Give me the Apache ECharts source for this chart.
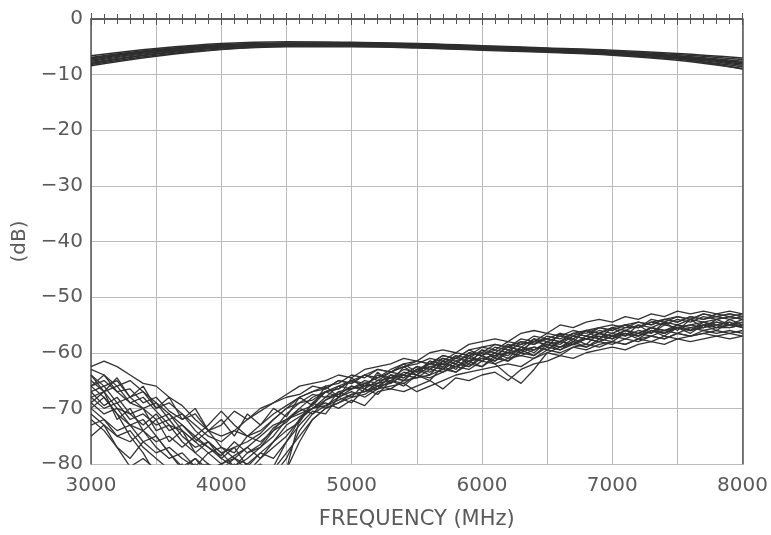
<!DOCTYPE html>
<html>
<head>
<meta charset="utf-8">
<script src="https://cdn.jsdelivr.net/npm/echarts@6/dist/echarts.min.js"></script>
<style>
html,body{margin:0;padding:0;background:#fff;}
#chart{width:771px;height:535px;}
</style>
</head>
<body>
<div id="chart"></div>
<script>
// Frequencies (MHz)
const freqUpper = [3000,3500,4000,4500,5000,5500,6000,6500,7000,7500,8000];
const freqLower = [3000,3100,3200,3300,3400,3500,3600,3700,3800,3900,
                   4000,4100,4200,4300,4400,4500,4600,4700,4800,4900,
                   5000,5100,5200,5300,5400,5500,5600,5700,5800,5900,
                   6000,6100,6200,6300,6400,6500,6600,6700,6800,6900,
                   7000,7100,7200,7300,7400,7500,7600,7700,7800,7900,8000];
const xTickLabels = ['3000','4000','5000','6000','7000','8000'];
const yTickLabels = ['0','−10','−20','−30','−40','−50','−60','−70','−80'];

// Upper band (dB)
const U1 = [-6.6,-5.3,-4.4,-4.1,-4.2,-4.4,-4.8,-5.2,-5.6,-6.2,-7.0];
const U2 = [-6.9,-5.5,-4.6,-4.3,-4.3,-4.5,-4.9,-5.3,-5.8,-6.4,-7.3];
const U3 = [-7.2,-5.7,-4.8,-4.4,-4.4,-4.6,-5.0,-5.4,-5.9,-6.6,-7.6];
const U4 = [-7.4,-5.9,-4.9,-4.5,-4.5,-4.7,-5.1,-5.5,-6.0,-6.7,-7.8];
const U5 = [-7.6,-6.0,-5.0,-4.6,-4.6,-4.8,-5.2,-5.6,-6.1,-6.8,-7.9];
const U6 = [-7.8,-6.2,-5.1,-4.7,-4.7,-4.9,-5.3,-5.7,-6.2,-6.9,-8.1];
const U7 = [-8.0,-6.3,-5.2,-4.8,-4.8,-5.0,-5.4,-5.8,-6.3,-7.0,-8.3];
const U8 = [-8.2,-6.5,-5.4,-4.9,-4.9,-5.1,-5.5,-5.9,-6.4,-7.2,-8.6];
const U9 = [-8.4,-6.7,-5.5,-5.0,-5.0,-5.2,-5.6,-6.0,-6.5,-7.4,-8.9];
const U10 = [-7.0,-5.6,-4.7,-4.4,-4.5,-4.7,-5.1,-5.6,-6.2,-7.1,-9.0];

// Lower band (dB)
const L1 = [-62.5,-61.5,-62.5,-64,-65.5,-66,-68,-69.5,-72,-74,
 -75,-74,-72,-70.5,-69,-67.5,-66,-65.5,-65,-64,
 -64.5,-63,-62.5,-62,-61,-61.5,-60,-59.5,-60,-58.5,
 -58,-57.5,-58,-56.5,-56,-56.5,-55,-55.5,-54.5,-54,
 -54.5,-53.5,-54,-53,-53.5,-52.5,-53,-52.5,-53,-52.5,-53];
const L2 = [-66,-65,-67,-66.5,-69,-68,-70.5,-72,-71,-74,
 -73,-70.5,-72,-70,-69,-68,-67.5,-66,-66.5,-65,
 -65.5,-64,-64.5,-63,-62,-63.5,-61.5,-62,-60.5,-61,
 -59.5,-60,-58.5,-59,-57.5,-58,-57,-57.5,-56,-56.5,
 -55.5,-56,-55,-55.5,-54.5,-55,-54,-54.5,-54,-53.5,-54];
const L3 = [-66,-68,-71,-75,-78,-82,-83,-81,-79,-82,
 -84,-83,-85,-82,-80.5,-76,-72,-70,-68,-67.5,
 -66,-66.5,-65,-64.5,-65,-63,-63.5,-62,-62.5,-61,
 -61.5,-60,-60.5,-59,-59.5,-58,-58.5,-57,-57.5,-56.5,
 -57,-56,-56.5,-55.5,-56,-55,-55.5,-55,-54.5,-55,-54.5];
const L4 = [-68,-70,-69,-72,-71,-73,-72,-75,-77,-76,
 -78,-80.5,-79,-77,-75,-72,-70.5,-69.5,-67,-68,
 -66.5,-65.5,-66,-64.5,-64,-62.5,-63,-61.5,-62,-60,
 -60.5,-59.5,-60,-58,-58.5,-57.5,-58,-56.5,-57,-56,
 -56.5,-55.5,-55.5,-54.5,-55,-54,-54.5,-53.5,-54,-53.5,-54];
const L5 = [-70,-72,-74,-73,-76,-75,-78,-80.5,-79,-81,
 -80,-82,-81,-83,-81,-78,-75,-72,-70,-69,
 -68,-67.5,-66,-66.5,-65,-64.5,-64,-63,-63.5,-62,
 -62.5,-61,-61.5,-60,-60.5,-59,-59.5,-58.5,-59,-58,
 -58.5,-57.5,-58,-57,-57.5,-56.5,-57,-56,-56.5,-56,-56.5];
const L6 = [-64,-66,-65,-68,-67,-70,-69,-71,-73,-75,
 -76,-74,-75,-73,-71,-69.5,-68,-67,-66,-65.5,
 -64,-64.5,-63,-63.5,-62,-61.5,-62,-60.5,-61,-59.5,
 -59,-59.5,-58,-58.5,-57,-57.5,-56.5,-57,-56,-55.5,
 -56,-55,-55.5,-54.5,-54,-54.5,-53.5,-54,-53,-53.5,-53];
const L7 = [-69,-71,-70,-73,-74,-76,-75,-77,-75,-73,
 -70.5,-73,-75,-74,-72,-70,-69,-67.5,-68,-66,
 -66.5,-65,-65.5,-64,-64.5,-63,-62,-62.5,-61,-61.5,
 -60,-60.5,-59,-59.5,-58,-58.5,-58,-57,-57.5,-56.5,
 -57,-56,-56.5,-55.5,-56,-55.5,-55,-55.5,-54.5,-55,-55];
const L8 = [-71,-73,-75,-74,-77,-79,-81,-80,-83,-81,
 -80,-79,-81,-80,-82,-79,-74,-71,-69.5,-68,
 -67,-68,-66.5,-65,-65.5,-64,-64.5,-63.5,-62.5,-63,
 -61.5,-62,-61,-60.5,-61,-59.5,-60,-59,-58.5,-59,
 -58,-58.5,-57.5,-57,-57.5,-56.5,-57,-56.5,-56,-56.5,-56];
const L9 = [-67,-66,-69,-68,-70,-72,-71,-74,-76,-78,
 -77,-79,-77,-75,-73,-72,-71,-70,-69,-70,
 -68.5,-69.5,-67,-66.5,-67,-66,-65,-66.5,-64.5,-65,
 -64,-63.5,-65,-63,-62,-61.5,-60.5,-61,-60,-59.5,
 -59,-59.5,-58.5,-58,-58.5,-57.5,-58,-57.5,-57,-57.5,-57];
const L10 = [-72,-74,-77,-80.5,-79,-81,-83,-82,-84,-83,
 -85,-84,-83,-84,-82,-81,-76,-72,-70,-69,
 -67.5,-67,-66,-65.5,-64,-64.5,-63,-63.5,-62,-62.5,
 -61,-61.5,-60,-60.5,-59.5,-58.5,-59,-58,-57.5,-58,
 -57,-57.5,-56.5,-57,-56,-56.5,-55.5,-56,-55.5,-55,-55.5];
const L11 = [-65,-67,-66,-69,-70,-69,-71,-73,-75,-77,
 -79,-80.5,-78,-77,-74,-71,-69,-68.5,-67,-66.5,
 -65,-65.5,-64.5,-63.5,-64,-62.5,-63,-61,-61.5,-60.5,
 -60,-58.5,-59,-58,-58.5,-57,-57.5,-56.5,-57,-55.5,
 -56,-55,-54.5,-55,-54,-54.5,-53.5,-54,-53.5,-53,-53.5];
const L12 = [-73,-72,-75,-76,-74,-77,-79,-78,-80.5,-80,
 -82,-80,-81.5,-79,-77,-75,-72,-70,-68.5,-67,
 -66.5,-66,-65.5,-65,-63.5,-64,-62.5,-62,-62.5,-61.5,
 -61,-60.5,-60,-59.5,-59,-59.5,-58,-58.5,-57.5,-57,
 -57.5,-56.5,-57,-56,-56.5,-55.5,-56,-55,-55.5,-55.5,-55];
const L13 = [-68,-67,-70,-71,-70,-74,-73,-76,-78,-80,
 -81,-79,-80,-78,-76,-73,-71.5,-70,-69.5,-68.5,
 -67.5,-67,-66.5,-66,-65.5,-67,-66,-65,-64,-63.5,
 -63,-62.5,-62,-62.5,-61,-60,-60.5,-59,-59.5,-58.5,
 -58,-58.5,-57.5,-58,-57,-57.5,-57,-56.5,-57,-56.5,-57];
const L14 = [-63,-64,-66,-65,-67,-69,-72,-71,-74,-76,
 -78,-77,-76,-74.5,-72,-70,-68,-67,-66.5,-65,
 -65.5,-64,-63,-63.5,-62.5,-62,-61,-61.5,-60,-60.5,
 -59,-58.5,-59,-57.5,-58,-56.5,-57,-56,-56.5,-55.5,
 -55,-55.5,-54.5,-55,-54,-53.5,-54,-53,-53.5,-54,-53.5];
const L15 = [-64,-67,-64.5,-68,-66,-70,-68,-72,-70,-74,
 -72,-75,-71,-73,-70,-71.5,-68,-69.5,-66,-68,
 -64.5,-66.5,-63.5,-65.5,-62.5,-64,-61.5,-63,-60.5,-62,
 -59.5,-61,-58.5,-60,-57.5,-59,-56.5,-58,-56,-57.5,
 -55.5,-57,-55,-56.5,-54.5,-56,-54,-55.5,-54,-55,-54];
const L16 = [-69,-67,-72,-70,-74,-72,-76,-74,-78,-76,
 -79,-77,-80.5,-78,-79,-76,-73,-70.5,-71,-68,
 -69,-66.5,-67.5,-65,-66,-64,-65,-62.5,-63.5,-61.5,
 -62.5,-60.5,-61.5,-59.5,-60.5,-58.5,-59.5,-58,-59,-57.5,
 -58,-56.5,-57.5,-56,-57,-55.5,-56.5,-55,-56,-54.5,-55.5];
const L17 = [-75,-73,-77,-79,-76,-78,-77,-79,-80.5,-78,
 -80,-78.5,-77,-79,-76,-74,-72.5,-69,-70,-67,
 -68,-65.5,-66.5,-64,-65,-63,-64,-61.5,-63,-60.5,
 -61.5,-60,-61,-59,-60,-58,-59,-57.5,-58.5,-56.5,
 -57.5,-56,-57,-55.5,-56.5,-55,-56,-54.5,-55.5,-54,-55];
const L18 = [-67,-69.5,-68,-71,-73,-71,-74,-73,-75.5,-77,
 -78.5,-76,-78,-76.5,-73.5,-72,-70,-68,-67,-66,
 -65,-64,-65,-63.5,-62.5,-61.5,-62,-60.5,-61,-59.5,
 -60.5,-62,-64,-65.5,-63,-60,-59,-58.5,-57.5,-58,
 -57,-56.5,-57,-56,-56.5,-55.5,-56,-55.5,-55,-55.5,-55];
const L19 = [-70,-68,-71,-73,-72,-75,-78,-81,-80,-82,
 -83,-81,-80,-82,-83,-81,-72,-69,-67,-66.5,
 -65,-66,-64,-64.5,-63,-63.5,-62,-61,-62,-60,
 -60.5,-59,-59.5,-58.5,-58,-57.5,-58,-56.5,-56,-56.5,
 -55.5,-55,-55.5,-54,-54.5,-53.5,-54,-53,-53.5,-53,-53.5];
const L20 = [-66,-64,-67,-69,-68,-70.5,-73,-74,-76,-74,
 -77,-78,-75,-76,-74,-72.5,-70,-71,-68.5,-67.5,
 -66,-67,-65.5,-64,-64.5,-63,-62.5,-63,-61.5,-62.5,
 -60.5,-61.5,-59.5,-60,-59,-59.5,-58,-58.5,-57,-57.5,
 -56.5,-57,-56,-56.5,-55,-55.5,-55,-54.5,-55,-54.5,-55.5];

const upperSets = [U1,U2,U3,U4,U5,U6,U7,U8,U9,U10];
const lowerSets = [L1,L2,L3,L4,L5,L6,L7,L8,L9,L10,L11,L12,L13,L14,L15,L16,L17,L18,L19,L20];

const FONT = 'DejaVu Sans';
const TXT = '#5a5a5a';
const AX = '#555';

const series = [];
upperSets.forEach(s => series.push({
  type: 'line', data: freqUpper.map((f, i) => [f, s[i]]),
  showSymbol: false, smooth: 0.4, clip: true,
  lineStyle: {color: '#2e2e2e', width: 1.5}, silent: true
}));
lowerSets.forEach(s => series.push({
  type: 'line', data: freqLower.map((f, i) => [f, s[i]]),
  showSymbol: false, smooth: false, clip: true,
  lineStyle: {color: '#333', width: 1.3}, silent: true
}));

const chart = echarts.init(document.getElementById('chart'));
chart.setOption({
  animation: false,
  backgroundColor: '#fff',
  grid: {left: 91, top: 19, right: 28, bottom: 67, containLabel: false},
  xAxis: [{
    type: 'value', min: 3000, max: 8000, interval: 500,
    name: 'FREQUENCY (MHz)', nameLocation: 'middle', nameGap: 45,
    nameTextStyle: {fontFamily: FONT, fontSize: 21, color: TXT},
    axisLine: {show: true, lineStyle: {color: AX, width: 1.5}},
    axisTick: {show: true, inside: true, length: 6, lineStyle: {color: AX}},
    minorTick: {show: true, splitNumber: 5, length: 5, lineStyle: {color: AX}},
    splitLine: {show: true, lineStyle: {color: '#bbb', width: 1}},
    axisLabel: {
      margin: 12, fontFamily: FONT, fontSize: 20, color: TXT,
      showMinLabel: true, showMaxLabel: true,
      formatter: v => xTickLabels.indexOf(String(v)) >= 0 ? String(v) : ''
    }
  }, {
    type: 'value', position: 'top', min: 3000, max: 8000, interval: 500,
    axisLine: {show: true, lineStyle: {color: AX, width: 1.5}},
    axisTick: {show: true, inside: true, length: 6, lineStyle: {color: AX}},
    minorTick: {show: true, splitNumber: 5, length: 5, lineStyle: {color: AX}},
    splitLine: {show: false}, axisLabel: {show: false}
  }],
  yAxis: [{
    type: 'value', min: -80, max: 0, interval: 10,
    name: '(dB)', nameLocation: 'middle', nameGap: 60,
    nameTextStyle: {fontFamily: FONT, fontSize: 20, color: TXT},
    axisLine: {show: true, lineStyle: {color: AX, width: 1.5}},
    axisTick: {show: false},
    splitLine: {show: true, lineStyle: {color: '#bbb', width: 1}},
    axisLabel: {
      margin: 8, fontFamily: FONT, fontSize: 20, color: TXT,
      formatter: v => yTickLabels[Math.round(-v / 10)]
    }
  }, {
    type: 'value', position: 'right', min: -80, max: 0, interval: 10,
    axisLine: {show: true, lineStyle: {color: AX, width: 1.5}},
    axisTick: {show: false}, splitLine: {show: false}, axisLabel: {show: false}
  }],
  series: series
});
</script>
</body>
</html>
